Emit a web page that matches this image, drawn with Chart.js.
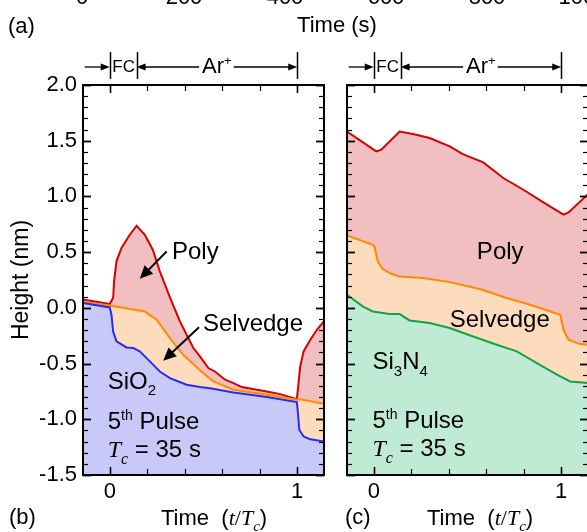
<!DOCTYPE html>
<html>
<head>
<meta charset="utf-8">
<script src="https://cdn.jsdelivr.net/npm/chart.js@4/dist/chart.umd.min.js"></script>
<style>
  html, body { margin: 0; padding: 0; background: #fff; overflow: hidden; }
  #wrap { position: relative; width: 587px; height: 532px; overflow: hidden; background: #fff; }
  canvas { position: absolute; top: 0; }
  #panelB { left: 0; }
  #panelC { left: 335px; }
  svg { position: absolute; left: 0; top: 0; pointer-events: none; }
  svg text { font-family: "Liberation Sans", Arial, sans-serif; fill: #000; }
</style>
</head>
<body>
<div id="wrap">
  <canvas id="panelB" width="340" height="532"></canvas>
  <canvas id="panelC" width="265" height="532"></canvas>
  <svg width="587" height="532" xmlns="http://www.w3.org/2000/svg">
    <!-- tick labels of the time axis above, mostly outside the page -->
    <g font-size="22" text-anchor="middle">
      <text x="82" y="4">0</text>
      <text x="184" y="4">200</text>
      <text x="285" y="4">400</text>
      <text x="386" y="4">600</text>
      <text x="487" y="4">800</text>
      <text x="583" y="4">1000</text>
    </g>
    <text x="8" y="33" font-size="22">(a)</text>
    <text x="337" y="32" font-size="22" text-anchor="middle">Time (s)</text>
    <text transform="translate(28,280) rotate(-90)" font-size="23" text-anchor="middle">Height (nm)</text>
    <text x="9" y="524" font-size="22">(b)</text>
    <text x="345" y="524" font-size="22">(c)</text>
    <text x="161" y="525" font-size="22" xml:space="preserve">Time  (<tspan font-family="Liberation Serif, Times New Roman, serif" font-style="italic">t</tspan><tspan font-family="Liberation Serif, Times New Roman, serif">/</tspan><tspan font-family="Liberation Serif, Times New Roman, serif" font-style="italic">T</tspan><tspan font-family="Liberation Serif, Times New Roman, serif" font-style="italic" font-size="15" dy="6">c</tspan><tspan dy="-6">)</tspan></text>
    <text x="427" y="525" font-size="22" xml:space="preserve">Time  (<tspan font-family="Liberation Serif, Times New Roman, serif" font-style="italic">t</tspan><tspan font-family="Liberation Serif, Times New Roman, serif">/</tspan><tspan font-family="Liberation Serif, Times New Roman, serif" font-style="italic">T</tspan><tspan font-family="Liberation Serif, Times New Roman, serif" font-style="italic" font-size="15" dy="6">c</tspan><tspan dy="-6">)</tspan></text>
  </svg>
</div>
<script>
// Cycle time and phase boundaries (in units of t/Tc)
const CYCLE_S = 35;
const FC_END = 5 / CYCLE_S;          // fluorocarbon deposition step
const T_MIN = -5 / CYCLE_S;
const T_MAX = 40 / CYCLE_S;

const xTickValues = [0, 1];
const xMinorStep = 0.2;
const yMin = -1.5, yMax = 2.0, yStep = 0.5, yMinorStep = 0.1;

// SiO2, 5th pulse: surface heights (nm) vs t/Tc
const sio2Poly = [
  [-0.143, 0.075], [0, 0.034], [0.018, 0.09], [0.023, 0.24], [0.036, 0.42],
  [0.063, 0.54], [0.107, 0.656], [0.143, 0.737], [0.187, 0.656], [0.23, 0.52],
  [0.267, 0.327], [0.321, 0.095], [0.374, -0.122], [0.445, -0.358], [0.481, -0.436],
  [0.526, -0.54], [0.561, -0.571], [0.615, -0.645], [0.66, -0.675], [0.704, -0.711],
  [0.838, -0.75], [0.909, -0.774], [0.998, -0.819], [1.007, -0.675], [1.016, -0.526],
  [1.034, -0.391], [1.07, -0.286], [1.105, -0.197], [1.143, -0.12]
];
const sio2Selvedge = [
  [-0.143, 0.052], [0, 0.022], [0.187, -0.032], [0.25, -0.107], [0.321, -0.271],
  [0.392, -0.421], [0.481, -0.56], [0.552, -0.66], [0.66, -0.735], [0.838, -0.78],
  [0.998, -0.825], [1.016, -0.82], [1.143, -0.86]
];
const sio2Oxide = [
  [-0.143, 0.043], [0, 0.004], [0.009, -0.062], [0.018, -0.212], [0.036, -0.30],
  [0.089, -0.355], [0.125, -0.361], [0.16, -0.39], [0.214, -0.48], [0.267, -0.571],
  [0.321, -0.63], [0.41, -0.69], [0.481, -0.71], [0.535, -0.722], [0.66, -0.76],
  [0.838, -0.80], [0.998, -0.846], [1.004, -0.944], [1.011, -1.094], [1.034, -1.154],
  [1.07, -1.18], [1.143, -1.2]
];

// Si3N4, 5th pulse
const sinPoly = [
  [-0.143, 1.583], [0.013, 1.404], [0.04, 1.42], [0.138, 1.583], [0.209, 1.56],
  [0.298, 1.524], [0.405, 1.449], [0.475, 1.38], [0.584, 1.305], [0.691, 1.165],
  [0.798, 1.06], [0.905, 0.946], [1.012, 0.836], [1.039, 0.857], [1.143, 1.02]
];
const sinSelvedge = [
  [-0.143, 0.65], [-0.005, 0.566], [0.004, 0.551], [0.021, 0.417], [0.048, 0.348],
  [0.093, 0.306], [0.138, 0.282], [0.262, 0.267], [0.405, 0.231], [0.566, 0.169],
  [0.709, 0.088], [0.834, 0.028], [0.995, -0.062], [1.012, -0.197], [1.039, -0.286],
  [1.101, -0.325], [1.143, -0.331]
];
const sinNitride = [
  [-0.143, 0.118], [-0.059, 0.013], [-0.005, -0.032], [0.084, -0.056], [0.138, -0.056],
  [0.191, -0.113], [0.298, -0.136], [0.405, -0.181], [0.53, -0.257], [0.656, -0.331],
  [0.763, -0.391], [0.87, -0.496], [0.977, -0.6], [1.048, -0.661], [1.143, -0.675]
];

const SANS = '"Liberation Sans", Arial, sans-serif';
const SERIF = '"Liberation Serif", "Times New Roman", serif';

const COLORS = {
  polyLine: '#d80000', polyFill: '#f2bfc1',
  selvLine: '#ff8a00', selvFill: '#fddcbd',
  oxideLine: '#2b2bf0', oxideFill: '#c9c9f9',
  nitrideLine: '#17a04a', nitrideFill: '#bfead4'
};

const toXY = arr => arr.map(([x, y]) => ({ x, y }));

function layer(data, line, fill) {
  return {
    data: toXY(data), borderColor: line, backgroundColor: fill,
    borderWidth: 2, pointRadius: 0, tension: 0, fill: 'start'
  };
}

function line(ctx, x1, y1, x2, y2) {
  ctx.beginPath(); ctx.moveTo(x1, y1); ctx.lineTo(x2, y2); ctx.stroke();
}

function arrowHead(ctx, x, y, angle, len, half) {
  ctx.save();
  ctx.translate(x, y); ctx.rotate(angle);
  ctx.beginPath(); ctx.moveTo(0, 0); ctx.lineTo(-len, -half); ctx.lineTo(-len, half); ctx.closePath();
  ctx.fill();
  ctx.restore();
}

function arrow(ctx, x1, y1, x2, y2, len, half, w) {
  const ang = Math.atan2(y2 - y1, x2 - x1);
  ctx.lineWidth = w;
  line(ctx, x1, y1, x2 - Math.cos(ang) * len * 0.8, y2 - Math.sin(ang) * len * 0.8);
  arrowHead(ctx, x2, y2, ang, len, half);
}

// Draws a run of text pieces: [text, font, dy]
function rich(ctx, x, y, parts) {
  let cx = x;
  for (const [t, font, dy] of parts) {
    ctx.font = font;
    ctx.fillText(t, cx, y + (dy || 0));
    cx += ctx.measureText(t).width;
  }
  return cx;
}

// Box frame with inward ticks on every side
const framePlugin = {
  id: 'frameTicks',
  afterDatasetsDraw(chart) {
    const { ctx, chartArea: a, scales: { x, y } } = chart;
    ctx.save();
    ctx.strokeStyle = '#000';
    const nY = Math.round((yMax - yMin) / yMinorStep);
    for (let i = 0; i <= nY; i++) {
      const v = yMin + i * yMinorStep;
      const py = Math.round(y.getPixelForValue(v)) + 0.5;
      const major = i % Math.round(yStep / yMinorStep) === 0;
      const len = major ? 8 : 5;
      ctx.lineWidth = major ? 1.8 : 1.2;
      line(ctx, a.left, py, a.left + len, py);
      line(ctx, a.right, py, a.right - len, py);
    }
    for (let v = 0; v <= 1.0001; v += xMinorStep) {
      const px = Math.round(x.getPixelForValue(v)) + 0.5;
      const major = xTickValues.some(t => Math.abs(t - v) < 1e-6);
      const len = major ? 8 : 6;
      ctx.lineWidth = major ? 1.6 : 1.2;
      line(ctx, px, a.top, px, a.top + len);
      line(ctx, px, a.bottom, px, a.bottom - len);
    }
    ctx.lineWidth = 2;
    ctx.strokeRect(a.left, a.top, a.right - a.left, a.bottom - a.top);
    ctx.restore();
  }
};

// Phase bracket above the plot and text labels inside it
const notesPlugin = {
  id: 'notes',
  afterDraw(chart) {
    const o = chart.options.plugins.notes;
    if (!o) return;
    const { ctx, chartArea: a, scales: { x, y } } = chart;
    const X = v => x.getPixelForValue(v);
    const Y = v => y.getPixelForValue(v);
    ctx.save();
    ctx.fillStyle = '#000';
    ctx.strokeStyle = '#000';

    // phase bracket: -> | FC | <--- Ar+ ---> |
    const yb = a.top - 18;
    const x0 = X(0), x1 = X(FC_END), x2 = X(1), xs = X(-0.134);
    ctx.lineWidth = 1.5;
    for (const xx of [x0, x1, x2]) line(ctx, Math.round(xx) + 0.5, a.top - 33, Math.round(xx) + 0.5, a.top - 6);
    arrow(ctx, xs, yb, x0, yb, 9, 3.5, 1.3);
    ctx.textBaseline = 'middle';
    ctx.textAlign = 'center';
    ctx.font = '17px ' + SANS;
    ctx.fillText('FC', (x0 + x1) / 2 + 0.5, yb);
    ctx.textAlign = 'left';
    ctx.font = '22px ' + SANS;
    const wAr = ctx.measureText('Ar').width;
    ctx.font = '13px ' + SANS;
    const wPlus = ctx.measureText('+').width;
    const mid = (x1 + x2) / 2;
    const tx = mid - (wAr + wPlus) / 2;
    rich(ctx, tx, yb, [['Ar', '22px ' + SANS, 0], ['+', '13px ' + SANS, -6]]);
    arrow(ctx, tx - 3, yb, x1, yb, 9, 3.5, 1.3);
    arrow(ctx, tx + wAr + wPlus + 2, yb, x2, yb, 9, 3.5, 1.3);

    // labels inside the plot
    ctx.textAlign = 'left';
    ctx.textBaseline = 'middle';
    for (const n of o.labels) rich(ctx, X(n.t), Y(n.v), n.parts);
    for (const ar of (o.arrows || [])) arrow(ctx, X(ar[0]), Y(ar[1]), X(ar[2]), Y(ar[3]), 13, 6, 2);
    ctx.restore();
  }
};

const F24 = '24px ' + SANS;
const SUB = '15px ' + SANS;
const SUP = '14px ' + SANS;
const pulseParts = [['5', F24, 0], ['th', SUP, -6], [' Pulse', F24, 0]];
const tcParts = [['T', 'italic 24px ' + SERIF, 0], ['c', 'italic 16px ' + SERIF, 9], [' = 35 s', F24, 0]];

function makeChart(id, datasets, opts) {
  return new Chart(document.getElementById(id), {
    type: 'line',
    data: { datasets },
    options: {
      responsive: false,
      animation: false,
      devicePixelRatio: 1,
      layout: { padding: { top: 85, bottom: 27, left: 0, right: opts.padRight } },
      plugins: { legend: { display: false }, tooltip: { enabled: false }, notes: opts.notes },
      scales: {
        x: {
          type: 'linear', min: T_MIN, max: T_MAX,
          grid: { display: false, drawTicks: false }, border: { display: false },
          afterBuildTicks: ax => { ax.ticks = xTickValues.map(v => ({ value: v })); },
          ticks: { callback: v => String(v), font: { family: SANS, size: 22 }, color: '#000', padding: 4, maxRotation: 0, autoSkip: false },
          afterFit: ax => { ax.height = 30; }
        },
        y: {
          type: 'linear', min: yMin, max: yMax,
          grid: { display: false, drawTicks: false }, border: { display: false },
          ticks: {
            display: opts.yLabels, stepSize: yStep, callback: v => v.toFixed(1),
            font: { family: SANS, size: 22 }, color: '#000', padding: 6
          },
          afterFit: ax => { ax.width = opts.yWidth; }
        }
      }
    },
    plugins: [framePlugin, notesPlugin]
  });
}

makeChart('panelB', [
  layer(sio2Oxide, COLORS.oxideLine, COLORS.oxideFill),
  layer(sio2Selvedge, COLORS.selvLine, COLORS.selvFill),
  layer(sio2Poly, COLORS.polyLine, COLORS.polyFill)
], {
  padRight: 16, yWidth: 83, yLabels: true,
  notes: {
    labels: [
      { t: 0.332, v: 0.495, parts: [['Poly', F24, 0]] },
      { t: 0.497, v: -0.152, parts: [['Selvedge', F24, 0]] },
      { t: -0.011, v: -0.668, parts: [['SiO', F24, 0], ['2', SUB, 9]] },
      { t: -0.011, v: -1.028, parts: pulseParts },
      { t: -0.011, v: -1.28, parts: tcParts }
    ],
    arrows: [
      [0.303, 0.506, 0.16, 0.261],
      [0.476, -0.174, 0.285, -0.475]
    ]
  }
});

makeChart('panelC', [
  layer(sinNitride, COLORS.nitrideLine, COLORS.nitrideFill),
  layer(sinSelvedge, COLORS.selvLine, COLORS.selvFill),
  layer(sinPoly, COLORS.polyLine, COLORS.polyFill)
], {
  padRight: 12, yWidth: 12, yLabels: false,
  notes: {
    labels: [
      { t: 0.55, v: 0.495, parts: [['Poly', F24, 0]] },
      { t: 0.405, v: -0.116, parts: [['Selvedge', F24, 0]] },
      { t: -0.007, v: -0.492, parts: [['Si', F24, 0], ['3', SUB, 9], ['N', F24, 0], ['4', SUB, 9]] },
      { t: -0.007, v: -1.018, parts: pulseParts },
      { t: -0.007, v: -1.27, parts: tcParts }
    ]
  }
});
</script>
</body>
</html>
